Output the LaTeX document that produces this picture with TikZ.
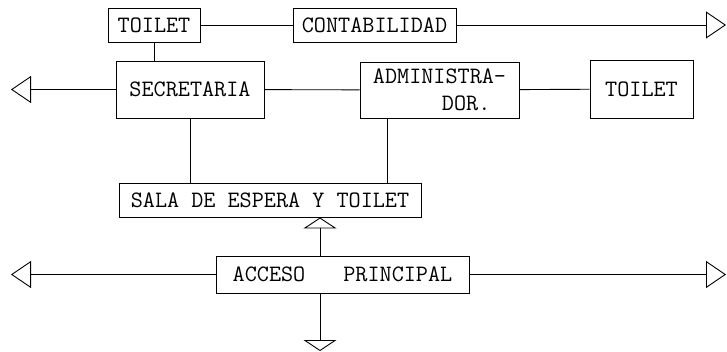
\documentclass[tikz,border=0pt]{standalone}
\usepackage{fontspec}
\usetikzlibrary{arrows.meta}
\tikzset{
  box/.style={draw, line width=0.9pt, inner sep=0pt, font=\ttfamily\fontsize{23.5}{27}\selectfont},
  conn/.style={line width=0.9pt},
  bigarrow/.style={conn, -{Triangle[open, length=20pt, width=27pt, line width=0.9pt]}},
  smallarrow/.style={conn, -{Triangle[open, length=11pt, width=33pt, line width=0.9pt]}}
}
\begin{document}
\begin{tikzpicture}[x=1pt, y=-1pt]
\useasboundingbox (0,0) rectangle (727,352);
\node[box, minimum width=92pt, minimum height=34pt] (toiletA) at (154,25) {TOILET};
\node[box, minimum width=163pt, minimum height=34pt] (conta) at (374.5,25) {CONTABILIDAD};
\node[box, minimum width=148pt, minimum height=57pt] (secre) at (190,89.5) {SECRETARIA};
\node[box, minimum width=159pt, minimum height=56pt, align=left] (admin) at (439.5,90) {ADMINISTRA-\\\hspace*{69pt}DOR.};
\node[box, minimum width=103pt, minimum height=58pt] (toiletB) at (641.5,89) {TOILET};
\node[box, minimum width=302pt, minimum height=34pt] (sala) at (270,200) {SALA DE ESPERA Y TOILET};
\node[box, minimum width=253pt, minimum height=37pt] (acceso) at (342.5,274.5) {ACCESO\hspace*{38pt}PRINCIPAL};

\coordinate (rtop) at (726,25);
\coordinate (lmid) at (11,89.5);
\coordinate (lbot) at (11,274.5);
\coordinate (rbot) at (726,274.5);
\coordinate (a1) at ([xshift=28pt]admin.south west);
\coordinate (c1) at ([xshift=-22.5pt]acceso.north);
\coordinate (c2) at ([xshift=-22.5pt]acceso.south);
\coordinate (dn) at (320,351);

\draw[conn] (toiletA) -- (conta);
\draw[bigarrow] (conta) -- (rtop);
\draw[conn] (toiletA.south) -- (toiletA.south |- secre.north);
\draw[bigarrow] (secre) -- (lmid);
\draw[conn] (secre) -- (admin);
\draw[conn] (admin) -- (toiletB);
\draw[conn] (secre.south) -- (secre.south |- sala.north);
\draw[conn] (a1) -- (a1 |- sala.north);
\draw[smallarrow] (c1) -- (c1 |- sala.south);
\draw[bigarrow] (acceso) -- (lbot);
\draw[bigarrow] (acceso) -- (rbot);
\draw[smallarrow] (c2) -- (dn);
\end{tikzpicture}
\end{document}
